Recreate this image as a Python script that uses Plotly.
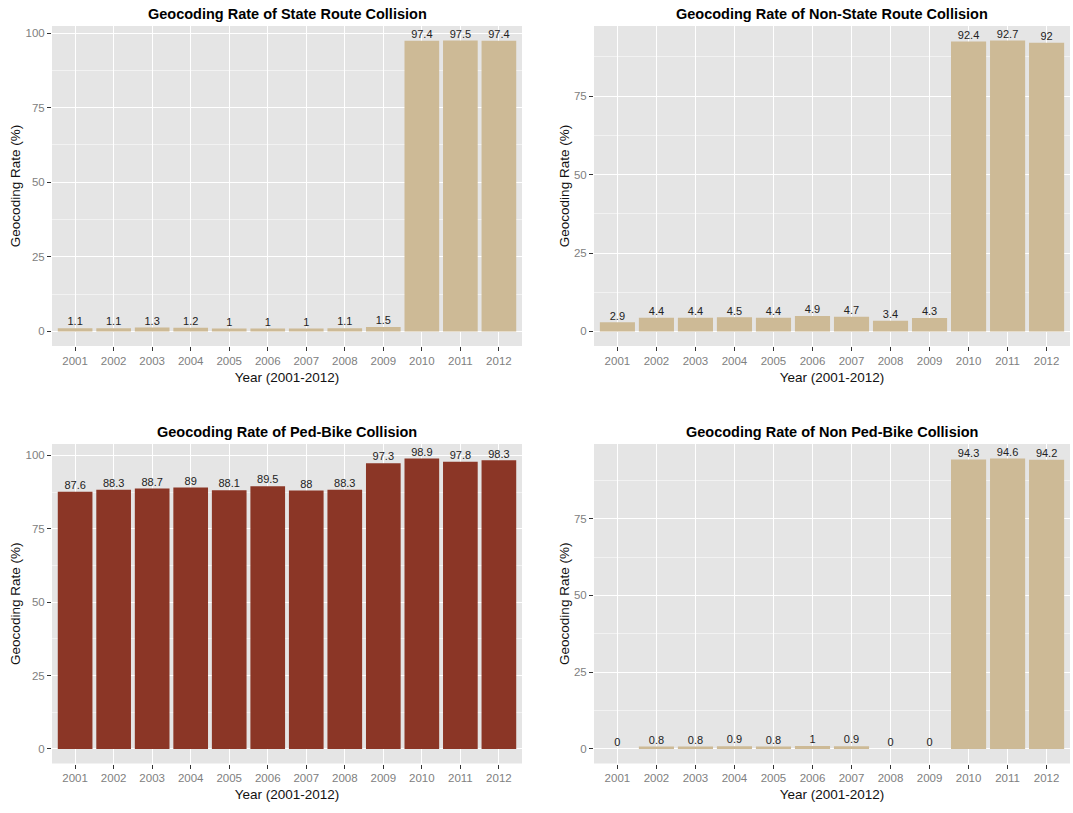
import plotly.graph_objects as go

years = [str(y) for y in range(2001, 2013)]

state_route = [1.1, 1.1, 1.3, 1.2, 1.0, 1.0, 1.0, 1.1, 1.5, 97.4, 97.5, 97.4]
non_state_route = [2.9, 4.4, 4.4, 4.5, 4.4, 4.9, 4.7, 3.4, 4.3, 92.4, 92.7, 92.0]
ped_bike = [87.6, 88.3, 88.7, 89.0, 88.1, 89.5, 88.0, 88.3, 97.3, 98.9, 97.8, 98.3]
non_ped_bike = [0, 0.8, 0.8, 0.9, 0.8, 1.0, 0.9, 0, 0, 94.3, 94.6, 94.2]

titles = [
    "Geocoding Rate of State Route Collision",
    "Geocoding Rate of Non-State Route Collision",
    "Geocoding Rate of Ped-Bike Collision",
    "Geocoding Rate of Non Ped-Bike Collision",
]
series = [state_route, non_state_route, ped_bike, non_ped_bike]
colors = ["#CDBA96", "#CDBA96", "#8B3626", "#CDBA96"]

W, H = 1073, 813
# panel pixel boxes in page coordinates (left, right, top, bottom)
boxes = [
    (52, 522, 26, 346),
    (594, 1070, 26, 346),
    (52, 522, 444, 763.5),
    (594, 1070, 444, 763.5),
]

FONT = "Liberation Sans, Arial, sans-serif"

fig = go.Figure()
layout = dict(
    width=W, height=H,
    margin=dict(l=0, r=0, t=0, b=0),
    paper_bgcolor="white",
    plot_bgcolor="#E5E5E5",
    showlegend=False,
    font=dict(family=FONT),
    annotations=[],
)

for i, (vals, title, col, box) in enumerate(zip(series, titles, colors, boxes)):
    n = i + 1
    xa = "x" if n == 1 else f"x{n}"
    ya = "y" if n == 1 else f"y{n}"
    l, r, t, b = box
    vmax = max(vals)
    fig.add_trace(go.Bar(
        x=years, y=vals, xaxis=xa, yaxis=ya,
        marker=dict(color=col, line=dict(width=0)),
        width=0.9, hoverinfo="x+y",
    ))
    fig.add_trace(go.Scatter(
        x=years, y=vals, xaxis=xa, yaxis=ya,
        mode="text", text=[f"{v:g}" for v in vals],
        textposition="top center",
        textfont=dict(family=FONT, size=11, color="#222222"),
        cliponaxis=False, hoverinfo="skip",
    ))
    xkey = "xaxis" if n == 1 else f"xaxis{n}"
    ykey = "yaxis" if n == 1 else f"yaxis{n}"
    layout[xkey] = dict(
        domain=[l / W, r / W], anchor=ya,
        type="category", range=[-0.6, 11.6],
        showgrid=True, gridcolor="white", gridwidth=1.1,
        ticks="outside", ticklen=4, tickcolor="#333333", tickwidth=1,
        tickfont=dict(family=FONT, size=11.5, color="#808080"),
        title=dict(text="Year (2001-2012)", font=dict(family=FONT, size=13.5, color="#111111"), standoff=6),
        zeroline=False, showline=False,
    )
    layout[ykey] = dict(
        domain=[1 - b / H, 1 - t / H], anchor=xa,
        range=[-0.05 * vmax, 1.05 * vmax],
        tickmode="array", tickvals=[0, 25, 50, 75, 100],
        showgrid=True, gridcolor="white", gridwidth=1.1,
        minor=dict(tickvals=[12.5, 37.5, 62.5, 87.5], showgrid=True, gridcolor="#F2F2F2", gridwidth=0.6),
        ticks="outside", ticklen=4, tickcolor="#333333", tickwidth=1,
        tickfont=dict(family=FONT, size=11.5, color="#808080"),
        title=dict(text="Geocoding Rate (%)", font=dict(family=FONT, size=13.5, color="#111111"), standoff=1),
        zeroline=False, showline=False,
    )
    layout["annotations"].append(dict(
        text=f"<b>{title}</b>", xref="paper", yref="paper",
        x=(l + r) / 2 / W, y=1 - (t - 2) / H, xanchor="center", yanchor="bottom",
        showarrow=False, font=dict(family=FONT, size=14.5, color="black"),
    ))

fig.update_layout(**layout)
fig.write_html("out.html", config={"displayModeBar": False},
               post_script="document.body.style.margin='0';")
